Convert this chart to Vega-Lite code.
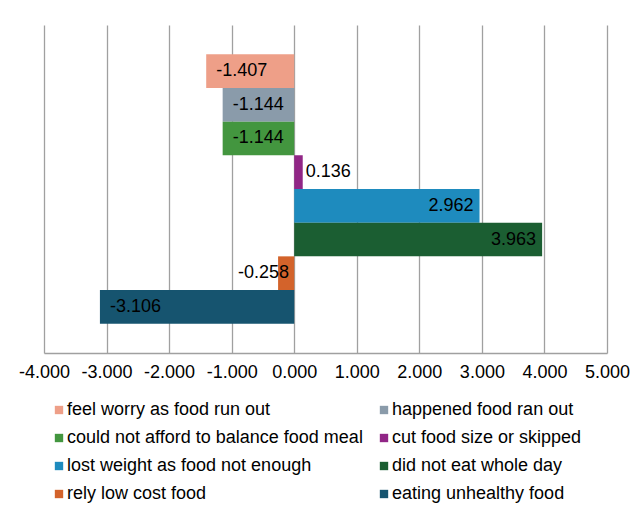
{
  "$schema": "https://vega.github.io/schema/vega-lite/v6.json",
  "autosize": {"type": "none"},
  "width": 563,
  "height": 328,
  "padding": {"left": 44, "top": 25, "right": 30, "bottom": 155},
  "background": "white",
  "config": {
    "view": {"stroke": null},
    "font": "Liberation Sans",
    "locale": {"number": {"decimal": ".", "thousands": ",", "grouping": [3], "currency": ["$", ""], "minus": "-"}}
  },
  "data": {
    "values": [
      {"series": "feel worry as food run out", "value": -1.407},
      {"series": " happened food ran out", "value": -1.144},
      {"series": "could not afford to balance food meal", "value": -1.144},
      {"series": "cut food size or skipped", "value": 0.136},
      {"series": "lost weight as food not enough", "value": 2.962},
      {"series": "did not eat whole day", "value": 3.963},
      {"series": "rely low cost food", "value": -0.258},
      {"series": "eating unhealthy food", "value": -3.106}
    ]
  },
  "encoding": {
    "y": {"field": "series", "type": "nominal", "sort": null, "scale": {"paddingInner": 0, "paddingOuter": 0.87}, "axis": null},
    "x": {
      "field": "value", "type": "quantitative",
      "scale": {"domain": [-4, 5], "nice": false, "zero": false},
      "axis": {
        "title": null, "values": [-4, -3, -2, -1, 0, 1, 2, 3, 4, 5], "format": ".3f",
        "ticks": false, "tickSize": 0, "labelPadding": 10.5, "labelFontSize": 18, "labelColor": "#000",
        "labelFlush": false, "labelOverlap": false,
        "domainColor": "#a0a0a0", "domainWidth": 1.3, "gridColor": "#a0a0a0", "gridWidth": 1.3, "gridOpacity": 1, "grid": true
      }
    }
  },
  "layer": [
    {
      "mark": {"type": "bar"},
      "encoding": {
        "x2": {"datum": 0},
        "color": {
          "field": "series", "type": "nominal",
          "scale": {
            "domain": ["feel worry as food run out", "could not afford to balance food meal", "lost weight as food not enough", "rely low cost food", " happened food ran out", "cut food size or skipped", "did not eat whole day", "eating unhealthy food"],
            "range": ["#EE9F88", "#43963F", "#1E8BBE", "#D3632B", "#8A9BAA", "#912686", "#1B5E32", "#16546F"]
          },
          "legend": {
            "orient": "none", "legendX": 6, "legendY": 376, "columns": 2, "title": null, "padding": 0,
            "symbolType": "square", "symbolSize": 70, "symbolStrokeWidth": 0, "symbolOpacity": 1,
            "labelFontSize": 18, "labelColor": "#000", "labelOffset": -1, "labelLimit": 400,
            "rowPadding": 10, "columnPadding": 12
          }
        }
      }
    },
    {
      "transform": [{"filter": "datum.value <= -0.5"}],
      "mark": {"type": "text", "align": "left", "baseline": "middle", "dx": 10, "fontSize": 18, "color": "#000"},
      "encoding": {"text": {"field": "value", "type": "quantitative", "format": ".3f"}}
    },
    {
      "transform": [{"filter": "datum.value >= 0.5"}],
      "mark": {"type": "text", "align": "right", "baseline": "middle", "dx": -6, "fontSize": 18, "color": "#000"},
      "encoding": {"text": {"field": "value", "type": "quantitative", "format": ".3f"}}
    },
    {
      "transform": [{"filter": "datum.value > 0 && datum.value < 0.5"}],
      "mark": {"type": "text", "align": "left", "baseline": "middle", "dx": 3, "fontSize": 18, "color": "#000"},
      "encoding": {"text": {"field": "value", "type": "quantitative", "format": ".3f"}}
    },
    {
      "transform": [{"filter": "datum.value < 0 && datum.value > -0.5"}],
      "mark": {"type": "text", "align": "right", "baseline": "middle", "dx": 11, "fontSize": 18, "color": "#000"},
      "encoding": {"text": {"field": "value", "type": "quantitative", "format": ".3f"}}
    }
  ]
}
